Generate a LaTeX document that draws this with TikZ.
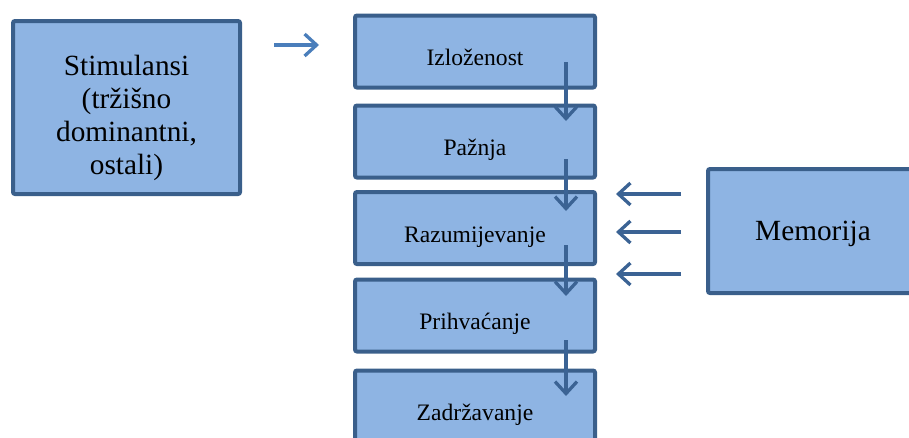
\documentclass[tikz,border=0pt]{standalone}
\usepackage{fontspec}
\setmainfont{Liberation Serif}
\usetikzlibrary{arrows.meta}

\definecolor{boxfill}{HTML}{8EB4E3}
\definecolor{boxline}{HTML}{3A5F8B}
\definecolor{arrdark}{HTML}{3B6394}
\definecolor{arrlight}{HTML}{4A7EBB}

\tikzset{
  bigbox/.style={rectangle, draw=boxline, fill=boxfill, line width=4pt, rounded corners=2pt,
    font=\fontsize{29.3}{33}\selectfont},
  stagebox/.style={rectangle, draw=boxline, fill=boxfill, line width=4pt, rounded corners=2pt,
    minimum width=240pt, minimum height=72pt, text height=32pt, text depth=4pt,
    font=\fontsize{23.6}{28}\selectfont},
  flow/.style={draw=arrdark, line width=3.3pt, -{Straight Barb[length=12pt,width=22pt]}},
}

\begin{document}
\begin{tikzpicture}[x=1pt, y=-1pt]
      \useasboundingbox (0,0) rectangle (909,437);
      \clip (0,0) rectangle (909,437);

      % boxes
      \node[bigbox, minimum width=227pt, minimum height=173pt, align=center] (stim) at (126.5,107.5)
        {\rule{0pt}{42pt}Stimulansi\\(tržišno\\dominantni,\\ostali)};
      \node[stagebox] (izl) at (475,51.5) {Izloženost};
      \node[stagebox] (paz) at (475,141.5) {Pažnja};
      \node[stagebox] (raz) at (475,228) {Razumijevanje};
      \node[stagebox] (pri) at (475,315.5) {Prihvaćanje};
      \node[stagebox] (zad) at (475,406.5) {Zadržavanje};
      \node[bigbox, minimum width=210pt, minimum height=124pt, text height=24pt, text depth=6pt] (mem) at (813,231) {Memorija};

      % arrows
      \draw[flow, draw=arrlight] ([shift={(32pt,62.5pt)}]stim.east) -- ++(45,0);
      \draw[flow] ([shift={(91pt,27.5pt)}]izl.south) -- ([shift={(91pt,-17.5pt)}]paz.north);
      \draw[flow] ([shift={(91pt,20.5pt)}]paz.south) -- ([shift={(91pt,-21pt)}]raz.north);
      \draw[flow] ([shift={(91pt,21pt)}]raz.south) -- ([shift={(91pt,-18.5pt)}]pri.north);
      \draw[flow] ([shift={(91pt,13.5pt)}]pri.south) -- ([shift={(91pt,-27.5pt)}]zad.north);
      \foreach \dy in {37,-1,-43}
        \draw[flow] ([shift={(-25pt,\dy pt)}]mem.west) -- ++(-65,0);
    \end{tikzpicture}
\end{document}
